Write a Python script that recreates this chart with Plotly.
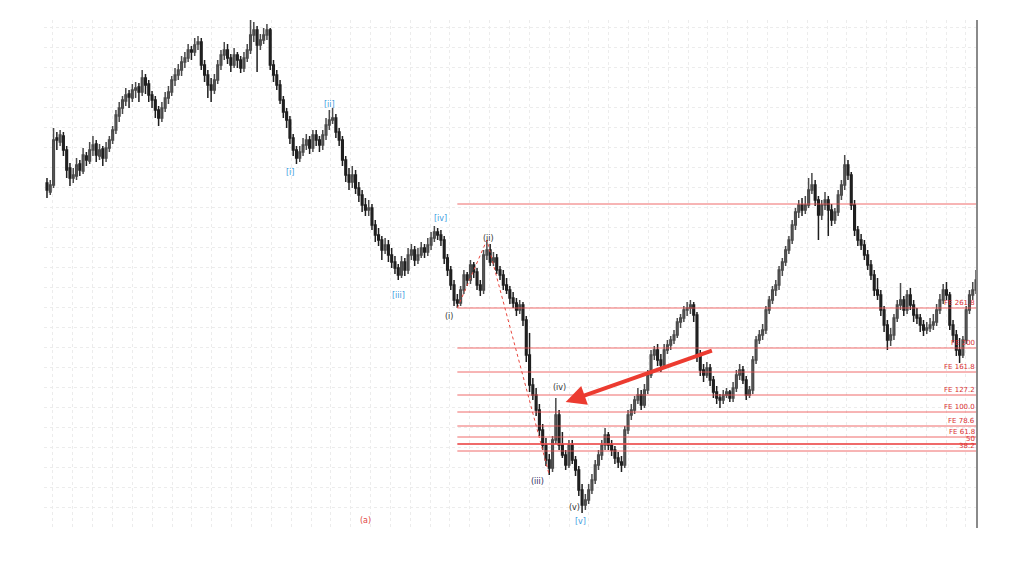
import plotly.graph_objects as go

# ---------------- data (price in chart points) ----------------
opens = [
    345,336,343,390,386,392,378,360,350,352, 364,357,372,367,378,384,372,379,370,380,
    388,398,412,420,427,434,430,438,441,436, 450,444,433,428,418,410,420,430,436,448,
    453,458,466,470,478,476,484,486,463,453, 443,438,448,463,473,478,470,463,473,468,
    460,470,478,493,498,483,488,493,498,463, 453,443,428,416,408,390,378,370,376,383,
    388,380,393,388,383,393,403,408,410,396, 388,368,353,346,353,340,333,323,318,320,
    303,293,288,278,283,273,266,260,253,266, 258,273,278,268,273,280,276,283,290,296,
    293,288,270,258,243,228,225,238,253,248, 263,256,243,238,273,278,266,270,258,253,
    243,238,230,225,218,223,208,173,143,133, 118,98,83,68,60,88,113,83,73,63,
    83,68,58,38,23,28,38,48,63,73, 83,93,83,78,70,66,63,98,113,118,
    128,133,123,138,153,173,178,168,163,178, 183,188,193,206,210,218,220,223,213,173,
    158,153,160,148,136,130,128,133,136,130, 140,153,158,148,133,138,168,188,193,198,
    218,228,238,243,258,266,278,288,303,316, 323,318,323,338,343,328,313,323,328,318,
    308,316,333,343,363,353,323,298,288,283, 273,263,253,238,233,218,203,188,193,210,
    223,228,218,233,223,213,210,203,198,200, 203,206,218,228,238,233,203,193,178,173,
    188,218,233,238,
]
highs = [
    350,348,400,396,398,396,382,365,360,370, 368,380,376,386,392,388,384,382,386,392,
    402,418,426,432,440,438,444,446,445,458, 454,448,437,432,422,426,436,442,452,460,
    464,472,476,484,482,490,492,490,468,458, 450,454,468,478,486,484,474,480,476,472,
    476,484,508,506,502,494,500,504,500,468, 458,448,432,420,412,394,382,382,390,394,
    392,398,398,392,398,410,418,420,414,400, 392,372,360,362,358,346,338,330,328,324,
    308,300,292,290,288,280,272,264,272,270, 280,284,282,280,286,284,290,296,302,300,
    298,292,274,262,248,234,242,258,256,268, 266,260,248,278,288,284,276,274,262,258,
    250,242,236,230,228,226,212,195,150,140, 124,104,90,74,92,130,118,96,78,88,
    88,72,62,44,34,44,54,68,78,88, 100,96,88,82,76,72,102,118,124,132,
    140,138,144,158,178,182,184,174,184,188, 192,198,210,214,222,226,228,226,216,178,
    164,166,164,152,142,134,138,140,138,146, 158,164,162,152,142,172,192,198,204,222,
    232,242,248,262,270,282,292,308,320,328, 330,332,350,355,348,332,328,336,332,324,
    320,338,348,373,368,356,328,302,294,288, 278,268,258,250,238,222,208,200,214,228,
    245,232,238,240,228,220,214,208,206,210, 214,224,234,244,246,236,208,198,190,192,
    222,238,246,258,
]
lows = [
    330,333,340,378,382,372,350,342,345,348, 352,354,362,364,372,366,368,362,366,376,
    384,394,406,414,422,420,426,430,426,432, 434,426,420,410,402,406,416,424,432,442,
    448,452,460,466,468,472,478,458,446,430, 426,434,444,458,468,464,456,460,460,455,
    456,466,474,486,456,478,484,488,458,446, 438,424,410,400,384,372,364,366,372,378,
    374,376,382,376,378,388,398,404,390,382, 362,346,338,340,334,326,316,312,312,298,
    286,282,268,274,266,260,254,248,250,252, 254,268,262,264,270,270,272,278,286,288,
    282,264,252,238,222,220,222,234,242,244, 250,238,232,234,268,262,262,254,248,238,
    234,224,220,212,214,202,166,136,128,112, 92,78,62,53,56,84,78,70,58,60,
    64,52,32,15,18,24,34,44,58,68, 78,78,72,64,60,56,60,94,108,114,
    124,118,120,134,150,168,162,156,160,174, 178,184,190,200,206,212,214,206,166,152,
    146,150,142,130,124,120,124,130,126,126, 136,148,144,128,130,134,164,184,188,194,
    214,224,232,238,252,262,274,284,298,310, 312,314,320,334,322,288,308,318,292,302,
    304,312,328,338,348,318,292,282,278,268, 258,248,232,228,212,196,178,182,188,206,
    218,212,214,218,206,204,196,192,194,196, 198,202,214,224,228,198,186,172,165,170,
    184,214,228,234,
]
closes = [
    338,343,388,388,393,378,358,350,353,363, 358,373,368,378,383,373,378,370,380,388,
    398,413,420,428,433,431,438,440,436,450, 443,433,428,418,410,420,430,436,448,453,
    458,466,470,478,476,483,486,463,453,443, 438,448,463,473,478,470,463,473,468,460,
    470,478,493,498,483,488,493,498,463,453, 443,428,416,408,390,378,370,376,383,388,
    380,393,388,383,393,403,408,410,396,388, 368,353,346,353,340,333,323,318,320,303,
    293,288,278,283,273,266,260,253,266,258, 273,278,268,273,280,276,283,290,296,293,
    288,270,258,243,228,225,238,253,248,263, 256,243,238,273,278,266,270,258,253,243,
    238,230,225,218,223,208,173,143,133,118, 98,83,68,60,88,113,83,73,63,83,
    68,58,38,23,28,38,48,63,73,83, 93,83,78,70,66,63,98,113,118,128,
    133,123,138,153,173,178,168,163,178,183, 188,193,206,210,218,220,223,213,173,158,
    153,160,148,136,130,128,133,136,130,140, 153,158,148,133,138,168,188,193,198,218,
    228,238,243,258,266,278,288,303,316,323, 318,323,338,343,328,313,323,328,318,308,
    316,333,343,363,353,323,298,288,283,273, 263,253,238,233,218,203,188,193,210,223,
    228,218,233,223,213,210,203,198,200,203, 206,218,228,238,233,203,193,178,173,188,
    218,233,238,248,
]

# Fibonacci expansion levels (label, price)
fe_labels = ["", "FE 261.8", "FE 200", "FE 161.8", "FE 127.2", "FE 100.0", "FE 78.6", "FE 61.8", "50", "38.2"]
fe_prices = [324, 220, 180, 156, 133, 116, 102, 91, 84, 77]

# minor wave (i)-(ii)-(iii) swing points: bar index, price
swing_bars = [125, 134, 153]
swing_prices = [220, 288, 53]

# wave labels: text, bar index, price, colour key
wave_labels = ["[i]", "[ii]", "[iii]", "[iv]", "[v]", "(i)", "(ii)", "(iii)", "(iv)", "(v)", "(a)"]
wave_bars = [74, 86, 107, 120, 162.4, 122.4, 134.5, 149.4, 156, 160.6, 97]
wave_prices = [356, 424, 233, 310, 7, 212, 290, 47, 141, 21, 8]
wave_kinds = ["blue"] * 5 + ["black", "black", "navy", "black", "black", "red"]

# arrow: from (bar, price) to (bar, price)
arrow_from = (203, 178)
arrow_to = (158, 126)

bars = list(range(len(closes)))

# ---------------- figure ----------------
fig = go.Figure()
fig.add_trace(go.Candlestick(
    x=bars, open=opens, high=highs, low=lows, close=closes,
    increasing=dict(line=dict(color="#4a4a4a", width=1.5), fillcolor="#a9a9a9"),
    decreasing=dict(line=dict(color="#1e1e1e", width=1.5), fillcolor="#3a3a3a"),
    whiskerwidth=0, showlegend=False, hoverinfo="skip",
))

fig.add_trace(go.Scatter(
    x=swing_bars, y=swing_prices, mode="lines",
    line=dict(color="#e8453c", width=1, dash="dot"),
    showlegend=False, hoverinfo="skip",
))

x_end = 283.3
for lab, p in zip(fe_labels, fe_prices):
    w = 2 if lab == "50" else 1
    fig.add_shape(type="line", xref="x", yref="y", x0=swing_bars[0], x1=x_end, y0=p, y1=p,
                  line=dict(color="rgba(236,80,80,0.85)", width=w), layer="above")
    if lab:
        fig.add_annotation(x=1, xref="paper", xanchor="right", y=p, yref="y", yanchor="bottom",
                           text=lab, showarrow=False, yshift=-1,
                           font=dict(size=7, color="#d93030", family="DejaVu Sans"))

colors = {"blue": "#3d9be0", "black": "#333333", "navy": "#2b2b5c", "red": "#e04545"}
for t, b, p, k in zip(wave_labels, wave_bars, wave_prices, wave_kinds):
    fig.add_annotation(x=b, y=p, text=t, showarrow=False,
                       font=dict(size=8, color=colors[k], family="DejaVu Sans"))

fig.add_annotation(x=arrow_to[0], y=arrow_to[1], ax=arrow_from[0], ay=arrow_from[1],
                   xref="x", yref="y", axref="x", ayref="y", text="", showarrow=True,
                   arrowhead=2, arrowsize=1, arrowwidth=4, arrowcolor="#ec3b30")

# right border line
fig.add_shape(type="line", xref="paper", yref="paper", x0=1, x1=1, y0=0, y1=1,
              line=dict(color="#8a8a8a", width=2))

fig.update_layout(
    width=1024, height=574,
    margin=dict(l=36, r=55, t=12, b=54),
    paper_bgcolor="white", plot_bgcolor="white",
    xaxis=dict(range=[-0.91, x_end], showticklabels=False, ticks="",
               showgrid=True, gridcolor="#ececec", griddash="dot", gridwidth=1,
               tick0=1.83, dtick=6.046, zeroline=False, showline=False,
               rangeslider=dict(visible=False)),
    yaxis=dict(range=[0, 508], showticklabels=False, ticks="",
               showgrid=True, gridcolor="#ececec", griddash="dot", gridwidth=1,
               tick0=1, dtick=20, zeroline=False, showline=False),
    showlegend=False,
)

fig.write_html("out.html")
